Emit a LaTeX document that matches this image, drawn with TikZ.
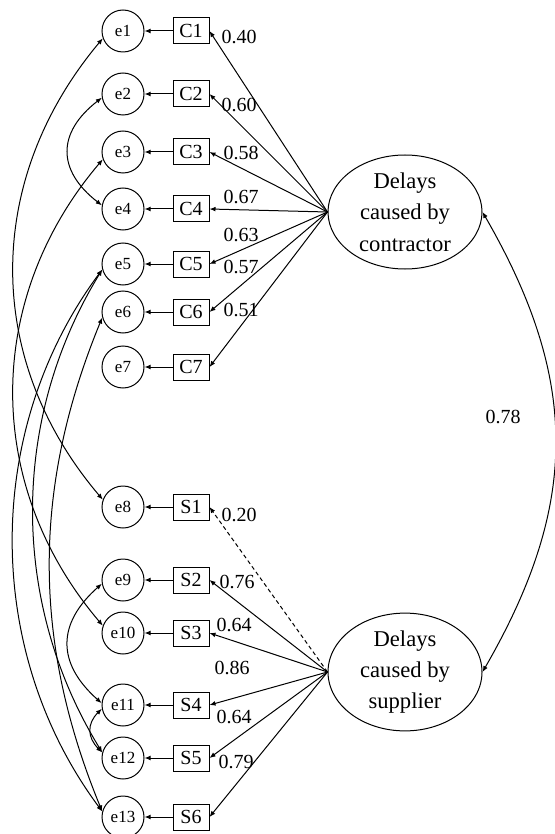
\documentclass[tikz,border=0pt]{standalone}
\usepackage{fontspec}
\setmainfont{Liberation Serif}
\usetikzlibrary{arrows.meta,shapes.geometric}
\tikzset{
  err/.style={circle,draw,minimum size=21pt,inner sep=0pt,font=\fontsize{8.5}{10}\selectfont},
  item/.style={rectangle,draw,minimum width=18pt,minimum height=13pt,inner sep=0pt,font=\fontsize{10}{12}\selectfont},
  factor/.style={ellipse,draw,minimum width=77pt,minimum height=57pt,inner sep=0pt,align=center,font=\fontsize{11.3}{15.7}\selectfont},
  coef/.style={inner sep=0pt,font=\fontsize{10}{12}\selectfont},
  loadarrow/.style={-{Latex[length=3pt,width=2.4pt]}},
  cov/.style={{Latex[length=3pt,width=2.4pt]}-{Latex[length=3pt,width=2.4pt]}},
}

\begin{document}
\begin{tikzpicture}[x=0.5pt,y=-0.5pt,line width=0.5pt]
\useasboundingbox (0,0) rectangle (555,834);

% latent factors
\node[factor] (contr) at (405,212) {Delays\\caused by\\contractor};
\node[factor] (suppl) at (405,672) {Delays\\caused by\\supplier};

% contractor items
\foreach \n/\y/\v/\lx/\ly in {1/31/0.40/239/37, 2/94/0.60/239/105, 3/152/0.58/241/153,
    4/209/0.67/241/197, 5/264/0.63/241/235, 6/312/0.57/241/267, 7/367/0.51/241/310}{
  \node[err] (e\n) at (123,\y) {e\n};
  \node[item] (C\n) at (191,\y) {C\n};
  \draw[loadarrow] (C\n) -- (e\n);
  \draw[loadarrow] (contr.west) -- (C\n.east);
  \node[coef] (lc\n) at (\lx,\ly) {\v};
}

% supplier items
\foreach \n/\m/\y/\v/\lx/\ly in {1/8/507/0.20/239/515, 2/9/580/0.76/237/582, 3/10/633/0.64/234/625,
    4/11/705/0.86/232/668, 5/12/758/0.64/234/717, 6/13/817/0.79/236/762}{
  \node[err] (e\m) at (123,\y) {e\m};
  \node[item] (S\n) at (191,\y) {S\n};
  \draw[loadarrow] (S\n) -- (e\m);
  \node[coef] (ls\n) at (\lx,\ly) {\v};
}
\draw[loadarrow,dash pattern=on 2pt off 1.5pt] (suppl.west) -- (S1.east);
\foreach \n in {2,...,6}
  \draw[loadarrow] (suppl.west) -- (S\n.east);

% factor correlation
\draw[cov] (contr.east) .. controls +(97,168) and +(97,-168) .. (suppl.east);
\node[coef] (r) at (503,417) {0.78};

% error covariances
\draw[cov] (e1.200) .. controls +(-119,142) and +(-119,-140) .. (e8.160);
\draw[cov] (e3.200) .. controls +(-119,140) and +(-119,-140) .. (e10.160);
\draw[cov] (e5.195) .. controls +(-119,160) and +(-119,-160) .. (e13.165);
\draw[cov] (e5.195) .. controls +(-92,150) and +(-92,-150) .. (e12.165);
\draw[cov] (e6.195) .. controls +(-70,170) and +(-70,-170) .. (e13.165);
\draw[cov] (e2.190) .. controls +(-45,35) and +(-45,-35) .. (e4.170);
\draw[cov] (e9.190) .. controls +(-45,40) and +(-45,-40) .. (e11.175);
\draw[cov] (e11.190) .. controls +(-15,15) and +(-15,-15) .. (e12.165);
\end{tikzpicture}
\end{document}
